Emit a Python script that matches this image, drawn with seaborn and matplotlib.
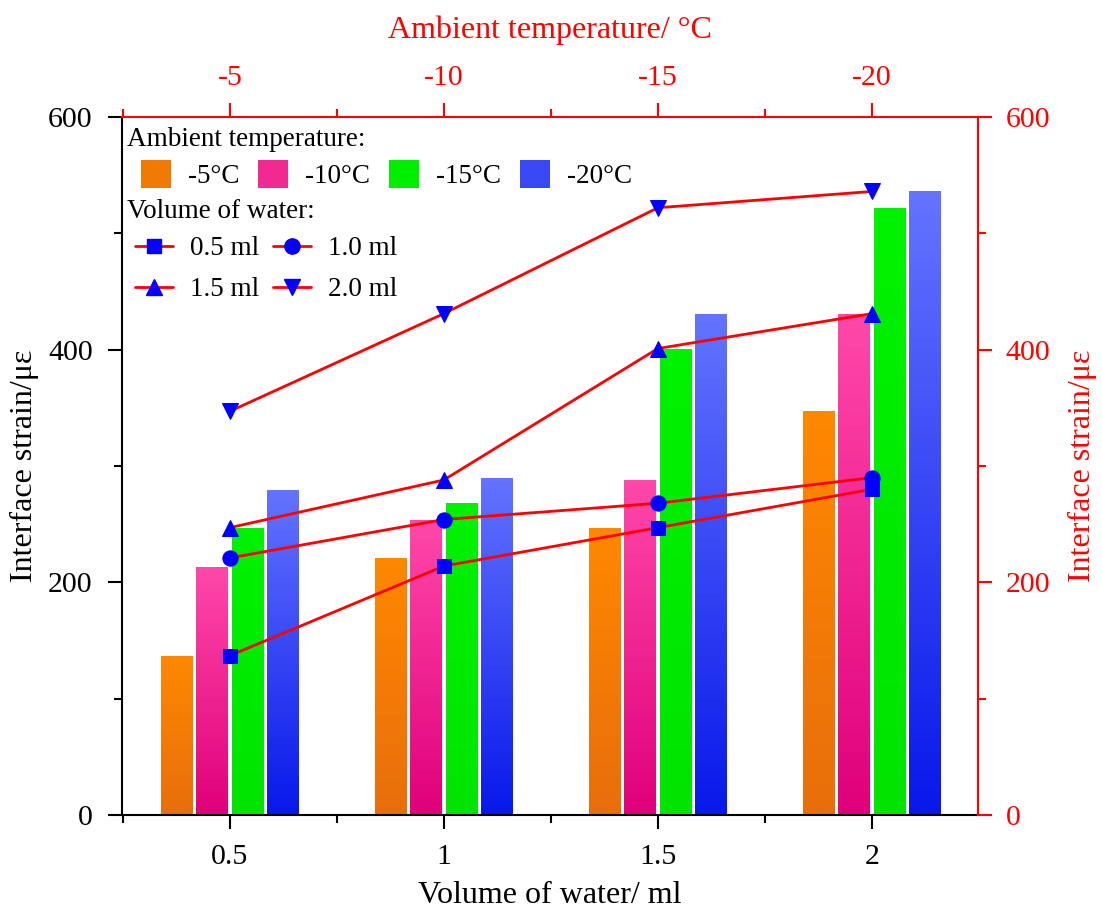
import numpy as np
import pandas as pd
import matplotlib
matplotlib.use("Agg")
import matplotlib.pyplot as plt
import seaborn as sns
from matplotlib.colors import LinearSegmentedColormap
from matplotlib.patches import Patch
from matplotlib.lines import Line2D
from matplotlib.ticker import MultipleLocator

# ---------------- data ----------------
volume_labels = ["0.5", "1", "1.5", "2"]
volume_values = [0.5, 1.0, 1.5, 2.0]
temp_labels = ["-5\u00b0C", "-10\u00b0C", "-15\u00b0C", "-20\u00b0C"]
temp_ticks = ["-5", "-10", "-15", "-20"]

# bars: strain per volume, one list per ambient temperature
bar_m5 = [137, 221, 247, 347]
bar_m10 = [213, 254, 288, 431]
bar_m15 = [247, 268, 401, 522]
bar_m20 = [279, 290, 431, 536]

# lines: strain per temperature, one list per volume of water
line_labels = ["0.5 ml", "1.0 ml", "1.5 ml", "2.0 ml"]
line_05 = [137, 214, 247, 280]
line_10 = [221, 254, 268, 290]
line_15 = [247, 288, 401, 431]
line_20 = [347, 431, 522, 536]

# ---------------- style ----------------
sns.set_theme(style="white")
plt.rcParams["font.family"] = ["Liberation Serif", "DejaVu Serif"]
plt.rcParams["text.color"] = "black"
plt.rcParams["axes.labelcolor"] = "black"
plt.rcParams["xtick.color"] = "black"
plt.rcParams["ytick.color"] = "black"
FS_TICK = 21.5
FS_LAB = 23
FS_LEG = 19.5

grad_colors = [("#E86E0C", "#FF8800"),   # bottom, top
               ("#E0007A", "#FF48AA"),
               ("#00E400", "#00F200"),
               ("#0818EA", "#6474FF")]
mid_colors = ["#F47E04", "#F53096", "#00EE00", "#4050F6"]
leg_colors = ["#F07A04", "#F02A90", "#00EE00", "#3848F4"]

W, H = 1102, 915
L, R, T, B = 122, 978, 117, 815
fig = plt.figure(figsize=(W / 100, H / 100), dpi=100)
ax = fig.add_axes([L / W, (H - B) / H, (R - L) / W, (B - T) / H])


def afx(px):
    return (px - L) / (R - L)


def afy(py):
    return (B - py) / (B - T)


rows = []
for t, vals in zip(temp_labels, [bar_m5, bar_m10, bar_m15, bar_m20]):
    for v, s in zip(volume_values, vals):
        rows.append({"volume": v, "temp": t, "strain": s})
df = pd.DataFrame(rows)

sns.barplot(data=df, x="volume", y="strain", hue="temp", hue_order=temp_labels,
            palette=mid_colors, native_scale=True, width=0.664, gap=0.1,
            errorbar=None, edgecolor="none", linewidth=0, legend=False, ax=ax,
            zorder=2)

# gradient fill for bars
grad = np.linspace(0, 1, 256).reshape(-1, 1)
for cont, (cb, ct) in zip(ax.containers, grad_colors):
    cmap = LinearSegmentedColormap.from_list("g", [cb, ct])
    for bar in cont:
        x0, y0 = bar.get_x(), bar.get_y()
        w, h = bar.get_width(), bar.get_height()
        im = ax.imshow(grad, extent=[x0, x0 + w, y0, y0 + h], origin="lower",
                       aspect="auto", cmap=cmap, zorder=2.5, interpolation="bilinear")
        im.set_clip_path(bar)

# lines
markers = ["s", "o", "^", "v"]
msizes = [10, 11, 12, 12]
for vals, m, ms in zip([line_05, line_10, line_15, line_20], markers, msizes):
    sns.lineplot(x=volume_values, y=vals, color="red", lw=2, marker=m,
                 markersize=ms, markerfacecolor="blue", markeredgecolor="blue",
                 ax=ax, zorder=5, legend=False)

ax.set_xlim(0.248, 2.248)
ax.set_ylim(0, 600)
ax.set_xticks(volume_values)
ax.set_xticklabels(volume_labels)
ax.xaxis.set_minor_locator(MultipleLocator(0.25))
ax.set_yticks([0, 200, 400, 600])
ax.yaxis.set_minor_locator(MultipleLocator(100))
ax.tick_params(which="major", direction="out", length=10, width=1.5,
               labelsize=FS_TICK, colors="black", bottom=True, left=True)
ax.tick_params(which="minor", direction="out", length=6, width=1.5,
               bottom=True, left=True)
ax.tick_params(axis="x", which="major", pad=11)
ax.tick_params(axis="y", which="major", pad=11)
ax.set_xlabel("Volume of water/ ml", fontsize=FS_LAB, color="black")
ax.set_ylabel("Interface strain/\u03bc\u03b5", fontsize=FS_LAB, color="black")
ax.xaxis.set_label_coords(0.5, afy(881))
ax.yaxis.set_label_coords(afx(39), 0.5)
for sp in ["left", "bottom"]:
    ax.spines[sp].set_color("black")
    ax.spines[sp].set_linewidth(1.5)
for sp in ["top", "right"]:
    ax.spines[sp].set_visible(False)

# right axis
axr = ax.twinx()
axr.set_ylim(0, 600)
axr.set_yticks([0, 200, 400, 600])
axr.yaxis.set_minor_locator(MultipleLocator(100))
axr.tick_params(which="major", direction="out", length=10, width=1.5,
                labelsize=FS_TICK, colors="red", right=True, pad=10)
axr.tick_params(which="minor", direction="out", length=6, width=1.5,
                colors="red", right=True)
axr.set_ylabel("Interface strain/\u03bc\u03b5", fontsize=FS_LAB, color="red")
axr.yaxis.set_label_coords(afx(1068), 0.5)
for sp in ["left", "bottom", "top"]:
    axr.spines[sp].set_visible(False)
axr.spines["right"].set_color("red")
axr.spines["right"].set_linewidth(1.5)
axr.grid(False)

# top axis
axt = ax.twiny()
axt.set_xlim(0.248, 2.248)
axt.set_xticks(volume_values)
axt.set_xticklabels(temp_ticks)
axt.xaxis.set_minor_locator(MultipleLocator(0.25))
axt.tick_params(which="major", direction="out", length=10, width=1.5,
                labelsize=FS_TICK, colors="red", top=True, pad=9)
axt.tick_params(which="minor", direction="out", length=6, width=1.5,
                colors="red", top=True)
axt.set_xlabel("Ambient temperature/ \u00b0C", fontsize=FS_LAB, color="red")
axt.xaxis.set_label_coords(0.5, afy(38))
for sp in ["left", "bottom", "right"]:
    axt.spines[sp].set_visible(False)
axt.spines["top"].set_color("red")
axt.spines["top"].set_linewidth(1.5)
axt.grid(False)

# legend headings
ax.text(afx(127), afy(139), "Ambient temperature:", transform=ax.transAxes,
        fontsize=FS_LEG, ha="left", va="center", zorder=10, color="black")
ax.text(afx(127), afy(211), "Volume of water:", transform=ax.transAxes,
        fontsize=FS_LEG, ha="left", va="center", zorder=10, color="black")

bar_handles = [Patch(facecolor=c, edgecolor="none") for c in leg_colors]
leg1 = ax.legend(bar_handles, temp_labels, ncol=4, loc="upper left",
                 bbox_to_anchor=(afx(141), afy(160)), frameon=False,
                 fontsize=FS_LEG, handlelength=1.1, handleheight=1.2,
                 handletextpad=0.63, columnspacing=0.7, borderpad=0.0,
                 borderaxespad=0.0, labelcolor="black")
ax.add_artist(leg1)

line_handles = [Line2D([], [], color="red", lw=2, marker=m, markersize=ms,
                       markerfacecolor="blue", markeredgecolor="blue")
                for m, ms in zip(markers, msizes)]
order = [0, 2, 1, 3]
ax.legend([line_handles[i] for i in order], [line_labels[i] for i in order],
          ncol=2, loc="upper left", bbox_to_anchor=(afx(135), afy(236)),
          frameon=False, fontsize=FS_LEG, handlelength=1.4,
          handletextpad=0.63, columnspacing=0.52, labelspacing=0.6,
          borderpad=0.0, borderaxespad=0.0, labelcolor="black")

fig.savefig("out.png", dpi=100)
